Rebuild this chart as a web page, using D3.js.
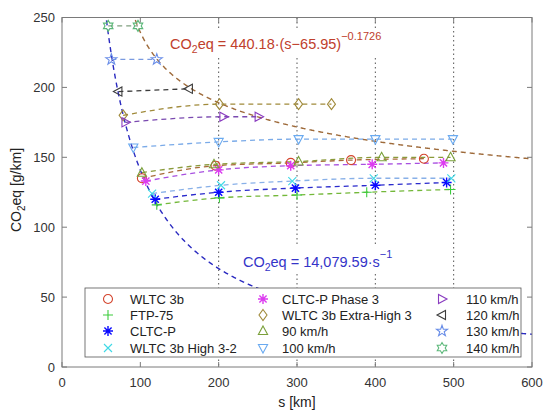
<!DOCTYPE html>
<html>
<head>
<meta charset="utf-8">
<script src="https://cdn.jsdelivr.net/npm/d3@7"></script>
<style>
  body { margin: 0; background: #fff; }
  svg { font-family: "Liberation Sans", Arial, sans-serif; }
</style>
</head>
<body>
<svg id="chart" width="550" height="419"></svg>
<script>
// Measured points, [s in km, CO2eq in g/km]
var wltc3b     = [[102, 135], [196, 144], [292, 146], [369, 148], [462, 149]];
var ftp75      = [[121, 116], [201, 121], [300, 123], [389, 125], [496, 127]];
var cltcP      = [[119, 120], [200, 125], [298, 128], [400, 130], [491, 132]];
var wltcHigh32 = [[115, 124], [203, 130], [294, 133], [398, 135], [497, 135]];
var cltcPhase3 = [[107, 133], [200, 141], [292, 144], [396, 145], [487, 146]];
var wltcXHigh3 = [[78, 180], [201, 188], [302, 188], [344, 188]];
var kmh90      = [[102, 139], [194, 145], [302, 147], [408, 150], [496, 150]];
var kmh100     = [[91, 157], [200, 161], [302, 163], [400, 163], [499, 163]];
var kmh110     = [[81, 175], [206, 179], [251, 179]];
var kmh120     = [[72, 197], [162, 199]];
var kmh130     = [[63, 220], [121, 220]];
var kmh140     = [[59, 244], [97, 244]];

var legendNames = ['WLTC 3b', 'FTP-75', 'CLTC-P', 'WLTC 3b High 3-2',
  'CLTC-P Phase 3', 'WLTC 3b Extra-High 3', '90 km/h', '100 km/h',
  '110 km/h', '120 km/h', '130 km/h', '140 km/h'];

var xTicks = [0, 100, 200, 300, 400, 500, 600];
var yTicks = [0, 50, 100, 150, 200, 250];
var dottedAt = [200, 300, 400, 500];

// fit parameters
var powA = 440.18, powS0 = 65.95, powB = -0.1726;
var invA = 14079.59;

var series = [
  { name: legendNames[0],  pts: wltc3b,     marker: 'circle',   color: '#d4452e', line: '#a86a3a' },
  { name: legendNames[1],  pts: ftp75,      marker: 'plus',     color: '#3ccc3c', line: '#74b83a' },
  { name: legendNames[2],  pts: cltcP,      marker: 'asterisk', color: '#0a0aff', line: '#2a2acc' },
  { name: legendNames[3],  pts: wltcHigh32, marker: 'x',        color: '#3fd9e6', line: '#88b0e8' },
  { name: legendNames[4],  pts: cltcPhase3, marker: 'asterisk', color: '#dc3cf0', line: '#a850e0' },
  { name: legendNames[5],  pts: wltcXHigh3, marker: 'diamond',  color: '#a08a3a', line: '#a08a3a' },
  { name: legendNames[6],  pts: kmh90,      marker: 'triUp',    color: '#7aa03a', line: '#8a9a3a' },
  { name: legendNames[7],  pts: kmh100,     marker: 'triDown',  color: '#6aaaf0', line: '#7aaae8' },
  { name: legendNames[8],  pts: kmh110,     marker: 'triRight', color: '#8a3cc0', line: '#7a4ab0' },
  { name: legendNames[9],  pts: kmh120,     marker: 'triLeft',  color: '#3c3c3c', line: '#3c3c3c' },
  { name: legendNames[10], pts: kmh130,     marker: 'penta',    color: '#6a8ee8', line: '#7a9ae0' },
  { name: legendNames[11], pts: kmh140,     marker: 'hexa',     color: '#5cb87a', line: '#80a080' }
];

function starPath(n, ro, ri, rot) {
  var p = [];
  for (var i = 0; i < 2 * n; i++) {
    var r = i % 2 === 0 ? ro : ri;
    var a = rot + i * Math.PI / n;
    p.push([r * Math.cos(a), r * Math.sin(a)]);
  }
  return 'M' + p.map(function (d) { return d[0].toFixed(2) + ',' + d[1].toFixed(2); }).join('L') + 'Z';
}

var markerPaths = {
  circle: 'M4.5,0A4.5,4.5 0 1,1 -4.5,0A4.5,4.5 0 1,1 4.5,0Z',
  plus: 'M-5,0H5M0,-5V5',
  x: 'M-4,-4L4,4M-4,4L4,-4',
  asterisk: 'M-5,0H5M0,-5V5M-3.6,-3.6L3.6,3.6M-3.6,3.6L3.6,-3.6',
  diamond: 'M0,-5.5L4,0L0,5.5L-4,0Z',
  triUp: 'M0,-5L4.6,3.5L-4.6,3.5Z',
  triDown: 'M0,5L4.6,-3.5L-4.6,-3.5Z',
  triRight: 'M5,0L-3.5,4.6L-3.5,-4.6Z',
  triLeft: 'M-5,0L3.5,4.6L3.5,-4.6Z',
  penta: starPath(5, 5.8, 2.3, -Math.PI / 2),
  hexa: starPath(6, 5.5, 3.2, -Math.PI / 2)
};

var svg = d3.select('#chart');
var margin = { left: 62, right: 18, top: 17.5, bottom: 52 };
var W = 550 - margin.left - margin.right,
  H = 419 - margin.top - margin.bottom;

var x = d3.scaleLinear().domain([0, 600]).range([0, W]);
var y = d3.scaleLinear().domain([0, 250]).range([H, 0]);

var g = svg.append('g').attr('transform', 'translate(' + margin.left + ',' + margin.top + ')');

g.append('clipPath').attr('id', 'plotClip')
  .append('rect').attr('width', W).attr('height', H);

var plot = g.append('g').attr('clip-path', 'url(#plotClip)');

// dotted reference lines
plot.selectAll('.ref').data(dottedAt).enter().append('line')
  .attr('x1', function (d) { return x(d); }).attr('x2', function (d) { return x(d); })
  .attr('y1', 0).attr('y2', H)
  .attr('stroke', '#555').attr('stroke-width', 1)
  .attr('stroke-dasharray', '1.5,3');

// fit curves
var line = d3.line().x(function (d) { return x(d[0]); }).y(function (d) { return y(d[1]); });

var sInv = d3.range(54, 601, 1);
plot.append('path')
  .datum(sInv.map(function (s) { return [s, invA / s]; }))
  .attr('d', line).attr('fill', 'none')
  .attr('stroke', '#2a2ac0').attr('stroke-width', 1.4)
  .attr('stroke-dasharray', '5,4');

var sPow = d3.range(90, 601, 1);
plot.append('path')
  .datum(sPow.map(function (s) { return [s, powA * Math.pow(s - powS0, powB)]; }))
  .attr('d', line).attr('fill', 'none')
  .attr('stroke', '#9e6a3a').attr('stroke-width', 1.4)
  .attr('stroke-dasharray', '5,4');

// series lines
var curve = d3.line().curve(d3.curveMonotoneX)
  .x(function (d) { return x(d[0]); }).y(function (d) { return y(d[1]); });

plot.selectAll('.sline').data(series).enter().append('path')
  .attr('class', 'sline')
  .attr('d', function (d) { return curve(d.pts); })
  .attr('fill', 'none')
  .attr('stroke', function (d) { return d.line; })
  .attr('stroke-width', 1.3)
  .attr('stroke-dasharray', '5,4');

// markers
series.forEach(function (sr) {
  plot.selectAll(null).data(sr.pts).enter().append('path')
    .attr('transform', function (d) { return 'translate(' + x(d[0]) + ',' + y(d[1]) + ')'; })
    .attr('d', markerPaths[sr.marker])
    .attr('fill', 'none')
    .attr('stroke', sr.color)
    .attr('stroke-width', sr.marker === 'asterisk' ? 1.4 : 1.1);
});

// fit labels, with a white background box like MATLAB text
function fitLabel(sx, by, color, main, sup) {
  var lg = g.append('g');
  var bg = lg.append('rect').attr('fill', '#fff');
  var t = lg.append('text').attr('x', x(sx)).attr('y', by).attr('fill', color).attr('font-size', 14.5);
  t.append('tspan').text('CO');
  t.append('tspan').attr('font-size', 10.5).attr('dy', 4).text('2');
  t.append('tspan').attr('dy', -4).text(main);
  t.append('tspan').attr('font-size', 11).attr('dy', -9).text(sup);
  var b = t.node().getBBox();
  bg.attr('x', b.x - 3).attr('y', b.y - 1).attr('width', b.width + 6).attr('height', b.height + 2);
}
fitLabel(138, 31, '#c0402c', 'eq = 440.18\u00b7(s\u221265.95)', '\u22120.1726');
fitLabel(231, 249.5, '#3434c8', 'eq = 14,079.59\u00b7s', '\u22121');

// axes box and ticks (inward, all sides)
var axisColor = '#7a7a7a';
g.append('rect').attr('width', W).attr('height', H)
  .attr('fill', 'none').attr('stroke', axisColor).attr('stroke-width', 1);

g.selectAll('.xt').data(xTicks).enter().append('path')
  .attr('d', function (d) { return 'M' + x(d) + ',' + H + 'v-5M' + x(d) + ',0v5'; })
  .attr('stroke', axisColor);
g.selectAll('.yt').data(yTicks).enter().append('path')
  .attr('d', function (d) { return 'M0,' + y(d) + 'h5M' + W + ',' + y(d) + 'h-5'; })
  .attr('stroke', axisColor);

g.selectAll('.xl').data(xTicks).enter().append('text')
  .attr('x', function (d) { return x(d); }).attr('y', H + 20)
  .attr('text-anchor', 'middle').attr('font-size', 13).attr('fill', '#333')
  .text(function (d) { return d; });
g.selectAll('.yl').data(yTicks).enter().append('text')
  .attr('x', -7).attr('y', function (d) { return y(d) + 4.5; })
  .attr('text-anchor', 'end').attr('font-size', 13).attr('fill', '#333')
  .text(function (d) { return d; });

g.append('text').attr('x', W / 2).attr('y', H + 40)
  .attr('text-anchor', 'middle').attr('font-size', 14).attr('fill', '#222')
  .text('s [km]');

var yt = svg.append('text')
  .attr('transform', 'translate(21,190) rotate(-90)')
  .attr('text-anchor', 'middle').attr('font-size', 14).attr('fill', '#222');
yt.append('tspan').text('CO');
yt.append('tspan').attr('font-size', 10).attr('dy', 4).text('2');
yt.append('tspan').attr('dy', -4).text('eq [g/km]');

// legend
var leg = svg.append('g');
leg.append('rect').attr('x', 85).attr('y', 288).attr('width', 436).attr('height', 69)
  .attr('fill', '#fff').attr('stroke', '#555').attr('stroke-width', 0.8);

var colMarkerX = [108, 263, 442], colTextX = [130, 282, 466];
var rowY = [299, 315, 331, 348];

series.forEach(function (sr, i) {
  var c = Math.floor(i / 4), r = i % 4;
  leg.append('path')
    .attr('transform', 'translate(' + colMarkerX[c] + ',' + rowY[r] + ')')
    .attr('d', markerPaths[sr.marker])
    .attr('fill', 'none').attr('stroke', sr.color)
    .attr('stroke-width', sr.marker === 'asterisk' ? 1.4 : 1.1);
  leg.append('text')
    .attr('x', colTextX[c]).attr('y', rowY[r] + 4.5)
    .attr('font-size', 13).attr('fill', '#222')
    .text(sr.name);
});
</script>
</body>
</html>
